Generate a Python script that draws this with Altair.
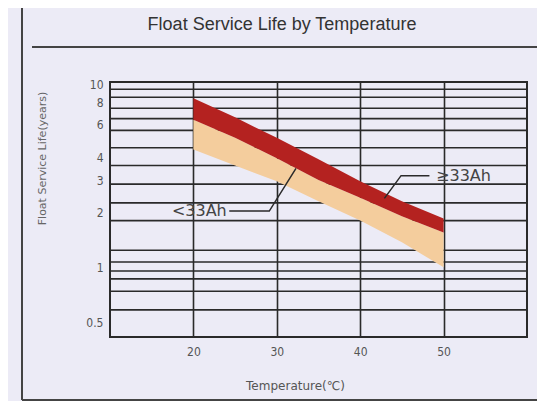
import altair as alt
import pandas as pd

# ---- data ----
temps = [20, 25, 30, 35, 40, 45, 50]
big_upper = [8.4, 6.6, 5.1, 3.9, 2.95, 2.3, 1.85]      # >=33Ah upper edge
big_lower = [6.4, 5.1, 3.95, 3.0, 2.4, 1.9, 1.55]      # >=33Ah lower edge / <33Ah upper edge
small_lower = [4.4, 3.6, 2.95, 2.3, 1.8, 1.37, 1.0]    # <33Ah lower edge

y_labels = [0.5, 1, 2, 3, 4, 6, 8, 10]
y_grid = [9.4, 8.5, 7.4, 6.5, 5.6, 4.5, 3.6, 2.85, 2.25, 1.8, 1.24, 1.07, 0.955, 0.865, 0.74, 0.585]
x_ticks = [20, 30, 40, 50]

lead_small_x = [24.3, 29.1, 32.3]
lead_small_y = [2.03, 2.03, 3.47]
lead_big_x = [48.3, 44.9, 42.9]
lead_big_y = [3.17, 3.17, 2.38]

label_small = "<33Ah"
label_big = "≥33Ah"
label_small_pos = (24.0, 2.03)
label_big_pos = (49.1, 3.15)

title_text = "Float Service Life by Temperature"

W, H = 417, 255
LINE = "#2a2a2a"

bands = pd.DataFrame({"t": temps, "hi": big_upper, "mid": big_lower, "lo": small_lower})
grid_df = pd.DataFrame({"v": y_grid})
lead_df = pd.DataFrame({
    "x": lead_small_x + lead_big_x,
    "y": lead_small_y + lead_big_y,
    "g": ["s"] * 3 + ["b"] * 3,
    "o": [0, 1, 2] * 2,
})
lab_df = pd.DataFrame({
    "x": [label_small_pos[0], label_big_pos[0]],
    "y": [label_small_pos[1], label_big_pos[1]],
    "txt": [label_small, label_big],
    "al": ["right", "left"],
})

xscale = alt.Scale(domain=[10, 60], nice=False, zero=False)
yscale = alt.Scale(type="log", domain=[0.416, 10.3], nice=False)

xaxis = alt.Axis(values=x_ticks, grid=True, gridColor=LINE, gridWidth=1.6, gridOpacity=1,
                 ticks=False, domain=False, labelFont="Liberation Sans Narrow, DejaVu Sans Condensed, sans-serif",
                 labelFontSize=12, labelColor="#555", labelPadding=9,
                 title="Temperature(℃)", titleFont="DejaVu Sans", titleFontSize=12,
                 titleFontWeight="normal", titleColor="#555",
                 titleX=185, titleY=48, titleBaseline="middle", titleAlign="center")
yaxis = alt.Axis(values=y_labels, grid=False, ticks=False, domain=False, format="~g",
                 labelFont="Liberation Sans Narrow, DejaVu Sans Condensed, sans-serif",
                 labelFontSize=12, labelColor="#555", labelPadding=7,
                 title="Float Service Life(years)", titleFont="DejaVu Sans", titleFontSize=11,
                 titleFontWeight="normal", titleColor="#666",
                 titleX=-68, titleY=76, titleBaseline="middle", titleAlign="center", titleAngle=-90)

grid = alt.Chart(grid_df).mark_rule(color=LINE, strokeWidth=1.6).encode(
    y=alt.Y("v:Q", scale=yscale, axis=yaxis)
)

base = alt.Chart(bands)
tan = base.mark_area(color="#f4cd9d", opacity=1).encode(
    x=alt.X("t:Q", scale=xscale, axis=xaxis),
    y=alt.Y("lo:Q", scale=yscale),
    y2="mid:Q",
)
red = base.mark_area(color="#b42220", opacity=1).encode(
    x=alt.X("t:Q", scale=xscale),
    y=alt.Y("mid:Q", scale=yscale),
    y2="hi:Q",
)

leads = alt.Chart(lead_df).mark_line(color=LINE, strokeWidth=1.5).encode(
    x=alt.X("x:Q", scale=xscale),
    y=alt.Y("y:Q", scale=yscale),
    detail="g:N",
    order="o:Q",
)

lab_s = alt.Chart(lab_df[lab_df.al == "right"]).mark_text(
    align="right", baseline="middle", font="DejaVu Sans", fontSize=16, color="#444"
).encode(x=alt.X("x:Q", scale=xscale), y=alt.Y("y:Q", scale=yscale), text="txt:N")
lab_b = alt.Chart(lab_df[lab_df.al == "left"]).mark_text(
    align="left", baseline="middle", font="DejaVu Sans", fontSize=16, color="#444"
).encode(x=alt.X("x:Q", scale=xscale), y=alt.Y("y:Q", scale=yscale), text="txt:N")

one = pd.DataFrame({"title": [title_text]})
title = alt.Chart(one).mark_text(
    align="center", baseline="middle", font="Liberation Sans", fontSize=18, color="#333"
).encode(x=alt.value(172), y=alt.value(-57), text="title:N")

frame_left = alt.Chart(one).mark_rule(color="#444", strokeWidth=2).encode(
    x=alt.value(-88), y=alt.value(-82), y2=alt.value(318))
frame_bottom = alt.Chart(one).mark_rule(color="#444", strokeWidth=2).encode(
    x=alt.value(-88), x2=alt.value(430), y=alt.value(318))
underline = alt.Chart(one).mark_rule(color="#444", strokeWidth=2).encode(
    x=alt.value(-78), x2=alt.value(430), y=alt.value(-35))

chart = alt.layer(
    grid, tan, red, leads, lab_s, lab_b, title, frame_left, frame_bottom, underline
).properties(
    width=W, height=H,
    autosize=alt.AutoSizeParams(type="none"),
    padding={"left": 102, "top": 74, "right": 10, "bottom": 64},
).configure(
    background="#ecebf6",
).configure_view(
    stroke=LINE, strokeWidth=2,
)

chart.save("out.html", embed_options={"renderer": "svg", "actions": False})
